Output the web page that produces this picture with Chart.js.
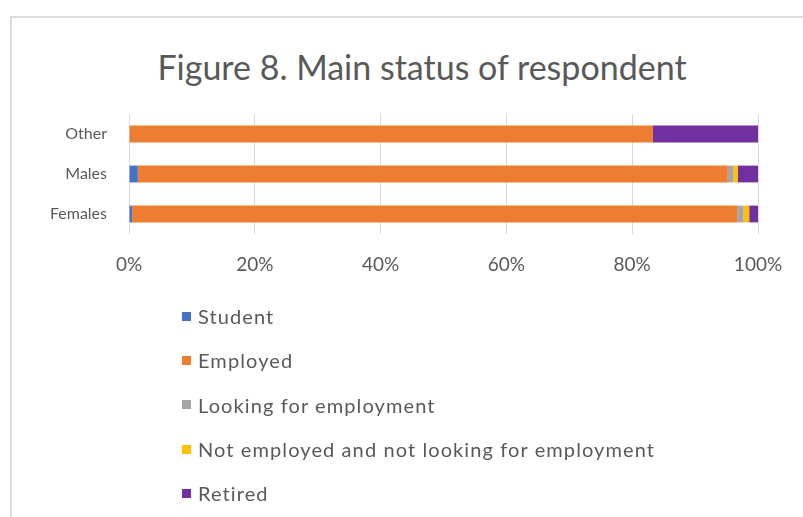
<!DOCTYPE html>
<html>
<head>
<meta charset="utf-8">
<script src="https://cdn.jsdelivr.net/npm/chart.js@4/dist/chart.umd.min.js"></script>
<style>
    html, body { margin: 0; padding: 0; background: #fff; overflow: hidden; }
    body { width: 803px; height: 517px; position: relative; font-family: Lato, "Open Sans", sans-serif; }
    #frame {
        position: absolute; left: 10px; top: 16px; width: 900px; height: 600px;
        border: 2px solid #dcdcdc; box-sizing: border-box;
    }
    #title {
        position: absolute; left: 22px; width: 800px; top: 45px; margin: 0;
        text-align: center; font-size: 34px; font-weight: normal; color: #595959;
        line-height: 44px; white-space: nowrap;
    }
    #wrap { position: absolute; left: 0; top: 0; width: 803px; height: 517px; }
    #legend { position: absolute; left: 182px; top: 294px; margin: 0; padding: 0; list-style: none; }
    #legend li { height: 44.3px; display: flex; align-items: center; }
    #legend li span.box { width: 9px; height: 9px; margin-right: 7px; display: inline-block; }
    #legend li span.txt { font-size: 20px; color: #595959; letter-spacing: 1.1px; }
</style>
</head>
<body>
<div id="frame"></div>
<div id="title">Figure 8. Main status of respondent</div>
<div id="wrap"><canvas id="chartStatus"></canvas></div>
<ul id="legend"></ul>
<script>
// Groups (bottom to top), share of respondents in %
const groups = ['Females', 'Males', 'Other'];
const student     = [0.5, 1.4, 0];
const employed    = [96.2, 93.8, 83.3];
const looking     = [1.0, 0.9, 0];
const notLooking  = [0.9, 0.7, 0];
const retired     = [1.4, 3.2, 16.7];

const seriesNames  = ['Student', 'Employed', 'Looking for employment',
                      'Not employed and not looking for employment', 'Retired'];
const seriesValues = [student, employed, looking, notLooking, retired];
const seriesColors = ['#4472C4', '#ED7D31', '#A5A5A5', '#FFC000', '#7030A0'];

const textColor = '#595959';
const gridColor = '#d9d9d9';

document.addEventListener('DOMContentLoaded', function () {
    const chart = new Chart(document.getElementById('chartStatus'), {
        type: 'bar',
        data: {
            labels: groups,
            datasets: seriesNames.map((name, i) => ({
                label: name,
                data: seriesValues[i],
                backgroundColor: seriesColors[i],
                borderWidth: 0,
                categoryPercentage: 1,
                barPercentage: 0.42
            }))
        },
        options: {
            indexAxis: 'y',
            responsive: true,
            maintainAspectRatio: false,
            animation: false,
            layout: { padding: { left: 0, right: 45, top: 114, bottom: 233 } },
            plugins: {
                legend: { display: false },
                tooltip: { enabled: false }
            },
            scales: {
                x: {
                    stacked: true,
                    min: 0,
                    max: 100,
                    ticks: {
                        stepSize: 20,
                        color: textColor,
                        font: { family: 'Lato', size: 19 },
                        padding: 19,
                        callback: v => v + '%'
                    },
                    grid: { color: gridColor, drawTicks: false },
                    border: { display: false },
                    afterFit: scale => { scale.height = 50; }
                },
                y: {
                    stacked: true,
                    reverse: true,
                    ticks: {
                        color: textColor,
                        font: { family: 'Lato', size: 16 },
                        padding: 22
                    },
                    grid: { display: false, drawTicks: false },
                    border: { display: false },
                    afterFit: scale => { scale.width = 129; }
                }
            }
        }
    });

    // Legend as a vertical list, built from the chart's datasets
    const legend = document.getElementById('legend');
    chart.data.datasets.forEach(ds => {
        const li = document.createElement('li');
        const box = document.createElement('span');
        box.className = 'box';
        box.style.background = ds.backgroundColor;
        const txt = document.createElement('span');
        txt.className = 'txt';
        txt.textContent = ds.label;
        li.appendChild(box);
        li.appendChild(txt);
        legend.appendChild(li);
    });
});
</script>
</body>
</html>
